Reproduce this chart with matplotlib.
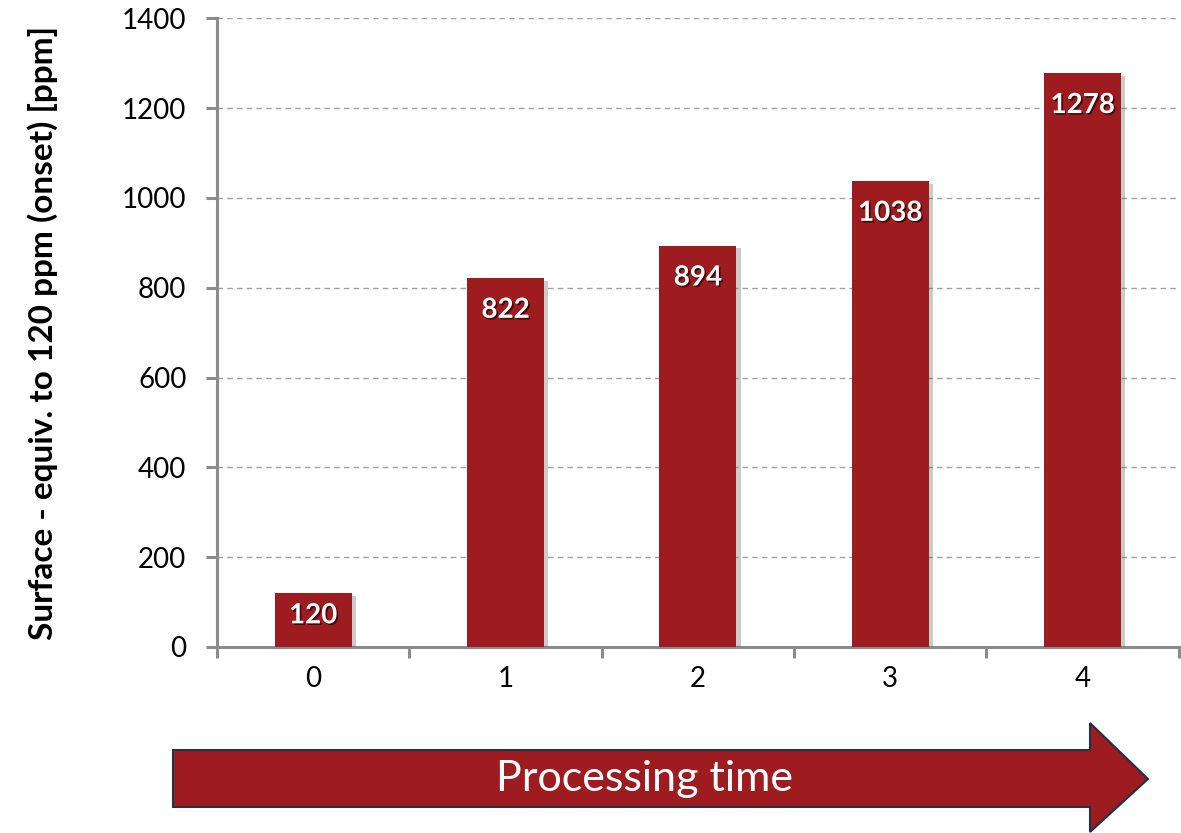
import matplotlib.pyplot as plt
import matplotlib.patheffects as pe
from matplotlib.patches import Polygon

plt.rcParams['font.family'] = ['Lato', 'DejaVu Sans']

# processing stages and measured surface values
stages = ['0', '1', '2', '3', '4']
surface_ppm = [120, 822, 894, 1038, 1278]

bar_color = '#9E1C1F'
axis_gray = '#8C8C8C'

fig = plt.figure(figsize=(11.81, 8.33), dpi=100)
ax = fig.add_axes([0.1837, 0.2233, 0.8145, 0.7547])

x = list(range(len(stages)))
bars = ax.bar(x, surface_ppm, width=0.4, color=bar_color, zorder=3)
for b in bars:
    b.set_path_effects([pe.SimplePatchShadow(offset=(3, -2), shadow_rgbFace='#555555', alpha=0.3),
                        pe.Normal()])

# value labels inside the top of each bar
for xi, v in zip(x, surface_ppm):
    off = -23 if v > 300 else -16
    ax.annotate(str(v), (xi, v), xytext=(0, off), textcoords='offset points',
                ha='center', va='center', color='white', fontsize=20, fontweight='bold',
                zorder=5,
                path_effects=[pe.withSimplePatchShadow(offset=(1.2, -1.2), shadow_rgbFace='black', alpha=0.6)])

ax.set_xlim(-0.5, 4.5)
ax.set_ylim(0, 1400)
ax.set_yticks(range(0, 1401, 200))
ax.set_xticks(x, stages)
ax.set_xticks([i - 0.5 for i in range(len(stages) + 1)], minor=True)
ax.tick_params(axis='x', which='major', length=0, pad=14, labelsize=20)
ax.tick_params(axis='x', which='minor', length=8, width=2.2, color=axis_gray)
ax.tick_params(axis='y', length=8, width=2.2, color=axis_gray, labelsize=20, pad=14)

ax.grid(axis='y', linestyle=(0, (4, 3)), color='#A0A0A0', linewidth=1, zorder=0)
for s in ['top', 'right']:
    ax.spines[s].set_visible(False)
for s in ['left', 'bottom']:
    ax.spines[s].set_color(axis_gray)
    ax.spines[s].set_linewidth(2.2)

ax.set_ylabel('Surface - equiv. to 120 ppm (onset) [ppm]', fontsize=24, fontweight='bold')
ax.yaxis.set_label_coords(-0.165, 0.5)

# processing time arrow below the axis
W, H = 1181, 833
arrow_px = [(173, 750), (1090, 750), (1090, 723), (1148, 779),
            (1090, 832), (1090, 807), (173, 807)]
arrow_pts = [(px / W, 1 - py / H) for px, py in arrow_px]
fig.patches.append(Polygon(arrow_pts, closed=True, transform=fig.transFigure,
                           facecolor=bar_color, edgecolor='#1F3347', linewidth=1.5))
fig.text(645 / W, 1 - 779 / H, 'Processing time', color='white', fontsize=31,
         ha='center', va='center')

fig.savefig('out.png', dpi=100)
